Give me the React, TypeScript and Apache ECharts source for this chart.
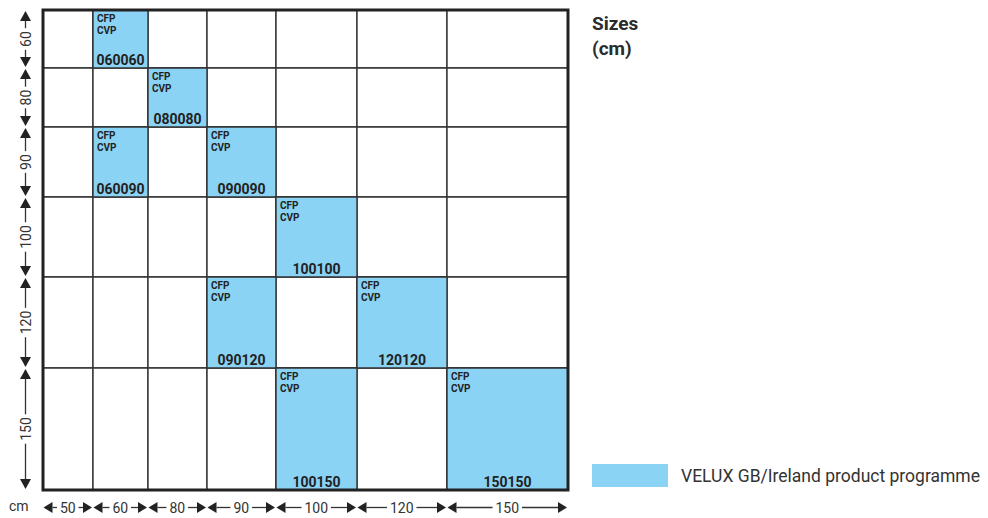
import React, { useEffect, useRef } from "react";
import * as echarts from "echarts";

// Window sizes (cm): widths (columns) and heights (rows)
const widthSizes = [50, 60, 80, 90, 100, 120, 150];
const heightSizes = [60, 80, 90, 100, 120, 150];
// Relative drawn extent of each column / row in the diagram (not to scale)
const widthScale = [50, 55, 59, 69, 81, 90, 121];
const heightScale = [58, 59, 70, 80, 91, 122];
// Sizes in the VELUX GB/Ireland product programme: [width, height]
const programme: [number, number][] = [
  [60, 60],
  [80, 80],
  [60, 90],
  [90, 90],
  [100, 100],
  [90, 120],
  [120, 120],
  [100, 150],
  [150, 150],
];
const productTypes = ["CFP", "CVP"];
const legendLabel = "VELUX GB/Ireland product programme";
const titleText = "Sizes\n(cm)";
const unitLabel = "cm";

const FONT = "Roboto, 'Liberation Sans', sans-serif";
const BLUE = "#8ad3f4";
const LINE = "#333333";

function cumulative(arr: number[]): number[] {
  const out = [0];
  arr.forEach((v) => out.push(out[out.length - 1] + v));
  return out;
}
const xEdges = cumulative(widthScale);
const yEdges = cumulative(heightScale);
const xTotal = xEdges[xEdges.length - 1];
const yTotal = yEdges[yEdges.length - 1];
const pad3 = (n: number) => String(n).padStart(3, "0");

export default function App() {
  const ref = useRef<HTMLDivElement>(null);
  useEffect(() => {
    document.body.style.margin = "0";
    const chart = echarts.init(ref.current!, undefined, { renderer: "svg" });

    const allCells: number[][] = [];
    heightSizes.forEach((_, r) =>
      widthSizes.forEach((_, c) => allCells.push([xEdges[c], yEdges[r], xEdges[c + 1], yEdges[r + 1]]))
    );
    const progCells = programme.map(([w, h]) => {
      const c = widthSizes.indexOf(w);
      const r = heightSizes.indexOf(h);
      return [xEdges[c], yEdges[r], xEdges[c + 1], yEdges[r + 1]];
    });
    const progCodes = programme.map(([w, h]) => pad3(w) + pad3(h));
    const colSpans = widthSizes.map((_, i) => [xEdges[i], xEdges[i + 1]]);
    const rowSpans = heightSizes.map((_, i) => [yEdges[i], yEdges[i + 1]]);

    const rectOf = (api: any) => {
      const p0 = api.coord([api.value(0), api.value(1)]);
      const p1 = api.coord([api.value(2), api.value(3)]);
      return { x: p0[0], y: p0[1], width: p1[0] - p0[0], height: p1[1] - p0[1] };
    };

    const option: any = {
      animation: false,
      backgroundColor: "#ffffff",
      title: {
        text: titleText,
        left: 592,
        top: 11,
        padding: 0,
        textStyle: { fontFamily: FONT, fontSize: 19, fontWeight: "bold", color: "#2b2b2b", lineHeight: 25 },
      },
      legend: {
        left: 592,
        top: 464,
        padding: 0,
        itemWidth: 76,
        itemHeight: 23,
        data: [{ name: legendLabel, icon: "rect", itemStyle: { color: BLUE, borderWidth: 0 } }],
        textStyle: { fontFamily: FONT, fontSize: 17.5, color: "#333", padding: [0, 0, 0, 8] },
        selectedMode: false,
      },
      graphic: [
        {
          type: "text",
          left: 9,
          top: 499,
          style: { text: unitLabel, fontFamily: FONT, fontSize: 14, fill: "#333" },
        },
      ],
      grid: { left: 43, top: 10, width: 525, height: 480 },
      xAxis: { type: "value", min: 0, max: xTotal, show: false },
      yAxis: { type: "value", min: 0, max: yTotal, inverse: true, show: false },
      series: [
        {
          type: "custom",
          name: "cells",
          data: allCells,
          z: 1,
          renderItem: (_p: any, api: any) => ({
            type: "rect",
            shape: rectOf(api),
            style: { fill: "#ffffff", stroke: LINE, lineWidth: 1.4 },
          }),
        },
        {
          type: "custom",
          name: legendLabel,
          data: progCells,
          z: 2,
          itemStyle: { color: BLUE },
          renderItem: (params: any, api: any) => {
            const r = rectOf(api);
            return {
              type: "group",
              children: [
                { type: "rect", shape: r, style: { fill: BLUE, stroke: LINE, lineWidth: 1.4 } },
                {
                  type: "text",
                  x: r.x + 4,
                  y: r.y + 3,
                  style: {
                    text: productTypes.join("\n"),
                    fontFamily: FONT,
                    fontSize: 10,
                    fontWeight: "bold",
                    lineHeight: 11.5,
                    fill: "#222",
                    align: "left",
                    verticalAlign: "top",
                  },
                },
                {
                  type: "text",
                  x: r.x + r.width / 2,
                  y: r.y + r.height - 1.5,
                  style: {
                    text: progCodes[params.dataIndex],
                    fontFamily: FONT,
                    fontSize: 14,
                    fontWeight: "bold",
                    fill: "#222",
                    align: "center",
                    verticalAlign: "bottom",
                  },
                },
              ],
            };
          },
        },
        {
          type: "custom",
          name: "frame",
          data: [[0, 0, xTotal, yTotal]],
          z: 3,
          renderItem: (_p: any, api: any) => ({
            type: "rect",
            shape: rectOf(api),
            style: { fill: "none", stroke: "#222", lineWidth: 3 },
          }),
        },
        {
          type: "custom",
          name: "widthDims",
          data: colSpans,
          clip: false,
          z: 3,
          renderItem: (params: any, api: any) => {
            const a = api.coord([api.value(0), yTotal]);
            const b = api.coord([api.value(1), yTotal]);
            const y = a[1] + 17.5;
            const L = a[0] + 0.5;
            const R = b[0] - 1;
            const label = String(widthSizes[params.dataIndex]);
            const tw = label.length * 7.8;
            const cx = (L + R) / 2;
            const hl = 9,
              hw = 5.5;
            const st = { stroke: LINE, lineWidth: 1.3 };
            return {
              type: "group",
              children: [
                { type: "polygon", shape: { points: [[L, y], [L + hl, y - hw], [L + hl, y + hw]] }, style: { fill: "#222" } },
                { type: "polygon", shape: { points: [[R, y], [R - hl, y - hw], [R - hl, y + hw]] }, style: { fill: "#222" } },
                { type: "line", shape: { x1: L + hl, y1: y, x2: cx - tw / 2 - 3, y2: y }, style: st },
                { type: "line", shape: { x1: cx + tw / 2 + 3, y1: y, x2: R - hl, y2: y }, style: st },
                {
                  type: "text",
                  x: cx,
                  y: y,
                  style: { text: label, fontFamily: FONT, fontSize: 14, fill: "#333", align: "center", verticalAlign: "middle" },
                },
              ],
            };
          },
        },
        {
          type: "custom",
          name: "heightDims",
          data: rowSpans,
          clip: false,
          z: 3,
          renderItem: (params: any, api: any) => {
            const a = api.coord([0, api.value(0)]);
            const b = api.coord([0, api.value(1)]);
            const x = a[0] - 17.5;
            const T = a[1] + 1;
            const B = b[1] - 1;
            const label = String(heightSizes[params.dataIndex]);
            const tw = label.length * 7.8;
            const cy = (T + B) / 2;
            const hl = 10,
              hw = 5.5;
            const st = { stroke: LINE, lineWidth: 1.3 };
            return {
              type: "group",
              children: [
                { type: "polygon", shape: { points: [[x, T], [x - hw, T + hl], [x + hw, T + hl]] }, style: { fill: "#222" } },
                { type: "polygon", shape: { points: [[x, B], [x - hw, B - hl], [x + hw, B - hl]] }, style: { fill: "#222" } },
                { type: "line", shape: { x1: x, y1: T + hl, x2: x, y2: cy - tw / 2 - 3 }, style: st },
                { type: "line", shape: { x1: x, y1: cy + tw / 2 + 3, x2: x, y2: B - hl }, style: st },
                {
                  type: "text",
                  x: x,
                  y: cy,
                  rotation: Math.PI / 2,
                  style: { text: label, fontFamily: FONT, fontSize: 14, fill: "#333", align: "center", verticalAlign: "middle" },
                },
              ],
            };
          },
        },
      ],
    };
    chart.setOption(option);
    return () => chart.dispose();
  }, []);
  return <div ref={ref} style={{ width: 988, height: 518 }} />;
}
